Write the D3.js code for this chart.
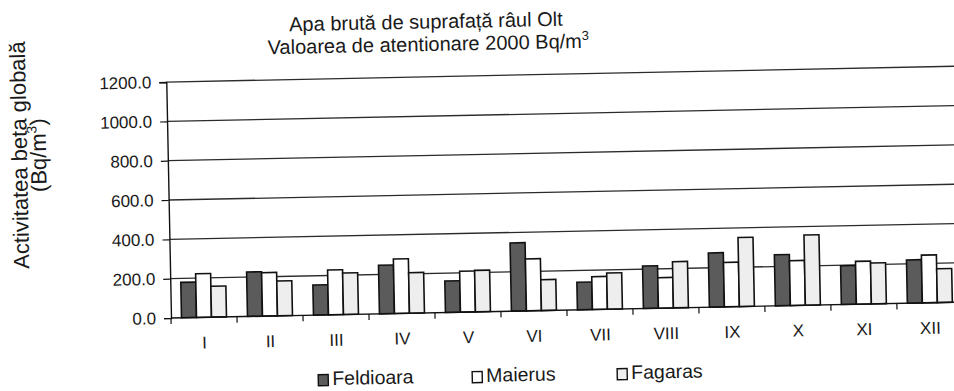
<!DOCTYPE html>
<html>
<head>
<meta charset="utf-8">
<script src="https://cdn.jsdelivr.net/npm/d3@7"></script>
<style>
  body { margin: 0; background: #fff; }
  svg { display: block; }
  text { font-family: "Liberation Sans", Arial, sans-serif; fill: #1a1a1a; }
</style>
</head>
<body>
<svg id="chart" width="954" height="391"></svg>
<script>
// Monthly gross beta activity, raw surface water, river Olt (Bq/m3)
const months = ["I", "II", "III", "IV", "V", "VI", "VII", "VIII", "IX", "X", "XI", "XII"];
const seriesNames = ["Feldioara", "Maierus", "Fagaras"];
const feldioara = [180, 226, 153, 247, 160, 347, 140, 216, 276, 260, 197, 220];
const maierus   = [222, 221, 228, 277, 208, 264, 167, 155, 226, 228, 218, 243];
const fagaras   = [157, 177, 211, 206, 211, 157, 184, 235, 351, 357, 208, 172];
const yTicks = [0, 200, 400, 600, 800, 1000, 1200];
const titleLines = ["Apa brută de suprafață râul Olt", "Valoarea de atentionare 2000 Bq/m"];
const yTitleLines = ["Activitatea beta globală", "(Bq/m"];

const seriesValues = [feldioara, maierus, fagaras];
const fills = ["#5b5b5b", "#ffffff", "#eeeeee"];

const svg = d3.select("#chart");
const width = 954, height = 391;

// Plot frame (origin = bottom-left corner of the plot area)
const origin = { x: 171, y: 318 };
const plotH = 236;
const step = 66;
const plotW = step * months.length;

// The sheet sits at a slight tilt; page positions are mapped back into the tilted frame.
const tilt = -1.15;
const rad = tilt * Math.PI / 180;
function level(X, Y) {
  const dx = X - origin.x, dy = Y - origin.y;
  const c = Math.cos(-rad), s = Math.sin(-rad);
  return [origin.x + dx * c - dy * s, origin.y + dx * s + dy * c];
}

const g = svg.append("g").attr("transform", `rotate(${tilt},${origin.x},${origin.y})`);

// Scales
const x = d3.scaleBand().domain(months).range([origin.x, origin.x + plotW]).padding(0);
const xs = d3.scaleBand().domain(seriesNames).range([0, x.bandwidth()]).paddingInner(0).paddingOuter(0.7);
const y = d3.scaleLinear().domain([0, 1200]).range([origin.y, origin.y - plotH]);

// Horizontal gridlines
g.append("g")
  .selectAll("line")
  .data(yTicks.filter(d => d > 0))
  .join("line")
  .attr("x1", origin.x).attr("x2", origin.x + plotW)
  .attr("y1", d => y(d)).attr("y2", d => y(d))
  .attr("stroke", "#2b2b2b").attr("stroke-width", 1.3);

// Bars
const rows = months.map((m, i) => ({ month: m, values: seriesNames.map((s, k) => ({ s, k, v: seriesValues[k][i] })) }));
g.append("g")
  .selectAll("g")
  .data(rows)
  .join("g")
  .attr("transform", d => `translate(${x(d.month)},0)`)
  .selectAll("rect")
  .data(d => d.values)
  .join("rect")
  .attr("x", d => xs(d.s))
  .attr("width", xs.bandwidth())
  .attr("y", d => y(d.v))
  .attr("height", d => y(0) - y(d.v))
  .attr("fill", d => fills[d.k])
  .attr("stroke", "#111")
  .attr("stroke-width", 1.6);

// Y axis
const yAxis = g.append("g")
  .attr("transform", `translate(${origin.x},0)`)
  .call(d3.axisLeft(y).tickValues(yTicks).tickFormat(d3.format(".1f")).tickSize(7).tickPadding(8));
yAxis.select(".domain").attr("stroke", "#111").attr("stroke-width", 1.4);
yAxis.selectAll(".tick line").attr("stroke", "#111").attr("stroke-width", 1.2);
yAxis.selectAll(".tick text").attr("font-size", 17).attr("font-family", "Liberation Sans, Arial, sans-serif").attr("fill", "#1a1a1a");

// X axis: boundary ticks between months, labels centred under each month
const bounds = d3.range(months.length + 1).map(i => origin.x + i * step);
g.append("line")
  .attr("x1", origin.x).attr("x2", origin.x + plotW)
  .attr("y1", origin.y).attr("y2", origin.y)
  .attr("stroke", "#111").attr("stroke-width", 1.4);
g.append("g").selectAll("line").data(bounds).join("line")
  .attr("x1", d => d).attr("x2", d => d)
  .attr("y1", origin.y).attr("y2", origin.y + 6)
  .attr("stroke", "#111").attr("stroke-width", 1.2);
const xAxis = g.append("g")
  .attr("transform", `translate(0,${origin.y})`)
  .call(d3.axisBottom(x).tickSize(0).tickPadding(19));
xAxis.select(".domain").remove();
xAxis.selectAll(".tick text").attr("font-size", 17).attr("font-family", "Liberation Sans, Arial, sans-serif").attr("fill", "#1a1a1a");

// Title
const t1 = level(426, 28.5), t2 = level(428.5, 51);
g.append("text").attr("x", t1[0]).attr("y", t1[1]).attr("text-anchor", "middle")
  .attr("font-size", 20).text(titleLines[0]);
const tt2 = g.append("text").attr("x", t2[0]).attr("y", t2[1]).attr("text-anchor", "middle").attr("font-size", 20);
tt2.append("tspan").text(titleLines[1]);
tt2.append("tspan").attr("font-size", 13).attr("dy", -8).text("3");

// Y axis title (two rotated lines)
const a1 = level(27, 155), a2 = level(46, 155);
g.append("text").attr("transform", `translate(${a1[0]},${a1[1]}) rotate(-90)`)
  .attr("text-anchor", "middle").attr("font-size", 22).text(yTitleLines[0]);
const yt2 = g.append("text").attr("transform", `translate(${a2[0]},${a2[1]}) rotate(-90)`)
  .attr("text-anchor", "middle").attr("font-size", 22);
yt2.append("tspan").text(yTitleLines[1]);
yt2.append("tspan").attr("font-size", 14).attr("dy", -9).text("3");
yt2.append("tspan").attr("dy", 9).text(")");

// Legend
const legY = level(332, 385)[1];
const legX = [317, 471, 616];
const leg = g.append("g").selectAll("g").data(seriesNames).join("g")
  .attr("transform", (d, i) => `translate(${legX[i]},${legY})`);
leg.append("rect").attr("x", 0).attr("y", -10.5).attr("width", 10).attr("height", 11)
  .attr("fill", (d, i) => fills[i]).attr("stroke", "#111").attr("stroke-width", 1.4);
leg.append("text").attr("x", 14).attr("y", 0).attr("font-size", 19.5).text(d => d);
</script>
</body>
</html>
